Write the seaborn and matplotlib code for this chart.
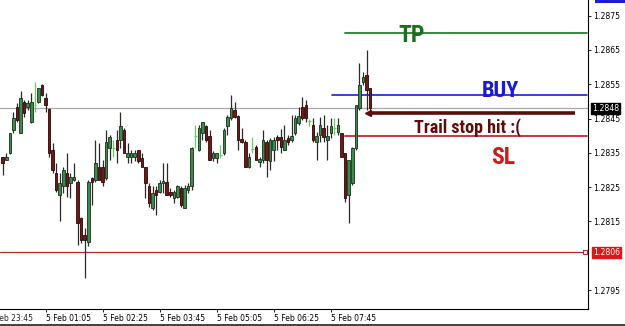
import numpy as np
import pandas as pd
import matplotlib
matplotlib.use("Agg")
import matplotlib.pyplot as plt
import seaborn as sns
from matplotlib.lines import Line2D
from matplotlib.patches import Rectangle
from matplotlib import font_manager

# ---------------- data (5-minute candles) ----------------
opens = [1.28339, 1.28329, 1.28349, 1.28417, 1.28485, 1.28407, 1.28499, 1.28485, 1.28439, 1.28490,
         1.28499, 1.28548, 1.28509, 1.28477, 1.28359, 1.28291, 1.28227, 1.28252, 1.28291, 1.28261,
         1.28271, 1.28266, 1.28159, 1.28111, 1.28091, 1.28276, 1.28271, 1.28310, 1.28310, 1.28276,
         1.28363, 1.28363, 1.28388, 1.28388, 1.28417, 1.28339, 1.28339, 1.28339, 1.28359, 1.28334,
         1.28310, 1.28252, 1.28188, 1.28242, 1.28237, 1.28261, 1.28266, 1.28237, 1.28217, 1.28222,
         1.28247, 1.28188, 1.28242, 1.28252, 1.28397, 1.28359, 1.28407, 1.28427, 1.28399, 1.28334,
         1.28334, 1.28344, 1.28349, 1.28427, 1.28451, 1.28475, 1.28458, 1.28391, 1.28383, 1.28310,
         1.28359, 1.28368, 1.28322, 1.28329, 1.28383, 1.28325, 1.28359, 1.28397, 1.28395, 1.28359,
         1.28393, 1.28388, 1.28407, 1.28436, 1.28485, 1.28490, 1.28441, 1.28431, 1.28383, 1.28402,
         1.28422, 1.28388, 1.28407, 1.28422, 1.28412, 1.28407, 1.28349, 1.28227, 1.28261, 1.28363,
         1.28481, 1.28557, 1.28577, 1.28539]
highs = [1.28339, 1.28349, 1.28409, 1.28470, 1.28495, 1.28529, 1.28504, 1.28504, 1.28524, 1.28558,
         1.28538, 1.28551, 1.28524, 1.28480, 1.28378, 1.28320, 1.28291, 1.28310, 1.28349, 1.28291,
         1.28320, 1.28271, 1.28164, 1.28130, 1.28271, 1.28281, 1.28388, 1.28378, 1.28329, 1.28417,
         1.28402, 1.28388, 1.28417, 1.28470, 1.28422, 1.28378, 1.28359, 1.28359, 1.28359, 1.28349,
         1.28310, 1.28261, 1.28252, 1.28252, 1.28271, 1.28320, 1.28320, 1.28247, 1.28242, 1.28256,
         1.28252, 1.28256, 1.28261, 1.28368, 1.28431, 1.28431, 1.28441, 1.28431, 1.28417, 1.28354,
         1.28349, 1.28373, 1.28422, 1.28461, 1.28519, 1.28499, 1.28461, 1.28422, 1.28388, 1.28349,
         1.28397, 1.28373, 1.28339, 1.28417, 1.28388, 1.28393, 1.28397, 1.28402, 1.28419, 1.28431,
         1.28402, 1.28461, 1.28461, 1.28485, 1.28514, 1.28504, 1.28448, 1.28451, 1.28412, 1.28456,
         1.28461, 1.28431, 1.28451, 1.28451, 1.28453, 1.28409, 1.28349, 1.28329, 1.28368, 1.28490,
         1.28612, 1.28586, 1.28650, 1.28539]
lows = [1.28286, 1.28329, 1.28347, 1.28407, 1.28441, 1.28407, 1.28456, 1.28475, 1.28436, 1.28470,
        1.28495, 1.28516, 1.28470, 1.28339, 1.28291, 1.28237, 1.28150, 1.28232, 1.28222, 1.28217,
        1.28268, 1.28082, 1.28086, 1.27984, 1.28077, 1.28198, 1.28266, 1.28271, 1.28252, 1.28271,
        1.28329, 1.28339, 1.28320, 1.28363, 1.28349, 1.28320, 1.28320, 1.28325, 1.28320, 1.28310,
        1.28217, 1.28193, 1.28184, 1.28169, 1.28232, 1.28232, 1.28227, 1.28222, 1.28203, 1.28217,
        1.28193, 1.28188, 1.28232, 1.28242, 1.28363, 1.28354, 1.28388, 1.28383, 1.28329, 1.28325,
        1.28320, 1.28334, 1.28344, 1.28402, 1.28446, 1.28451, 1.28359, 1.28378, 1.28310, 1.28305,
        1.28349, 1.28329, 1.28310, 1.28320, 1.28281, 1.28300, 1.28325, 1.28359, 1.28349, 1.28359,
        1.28373, 1.28383, 1.28402, 1.28431, 1.28446, 1.28441, 1.28427, 1.28383, 1.28329, 1.28383,
        1.28383, 1.28329, 1.28393, 1.28402, 1.28402, 1.28339, 1.28208, 1.28145, 1.28256, 1.28359,
        1.28475, 1.28548, 1.28475, 1.28460]
closes = [1.28320, 1.28339, 1.28409, 1.28451, 1.28446, 1.28509, 1.28467, 1.28495, 1.28499, 1.28491,
          1.28538, 1.28519, 1.28490, 1.28349, 1.28300, 1.28242, 1.28261, 1.28300, 1.28252, 1.28281,
          1.28279, 1.28145, 1.28096, 1.28096, 1.28266, 1.28266, 1.28320, 1.28271, 1.28266, 1.28383,
          1.28395, 1.28364, 1.28359, 1.28427, 1.28349, 1.28349, 1.28349, 1.28349, 1.28325, 1.28310,
          1.28261, 1.28203, 1.28232, 1.28227, 1.28261, 1.28268, 1.28227, 1.28227, 1.28237, 1.28252,
          1.28198, 1.28247, 1.28252, 1.28363, 1.28398, 1.28422, 1.28441, 1.28388, 1.28329, 1.28349,
          1.28349, 1.28345, 1.28417, 1.28456, 1.28480, 1.28456, 1.28388, 1.28383, 1.28310, 1.28339,
          1.28360, 1.28329, 1.28331, 1.28388, 1.28329, 1.28388, 1.28388, 1.28388, 1.28368, 1.28388,
          1.28383, 1.28399, 1.28451, 1.28458, 1.28451, 1.28451, 1.28442, 1.28388, 1.28399, 1.28431,
          1.28397, 1.28399, 1.28428, 1.28423, 1.28431, 1.28339, 1.28217, 1.28329, 1.28363, 1.28490,
          1.28548, 1.28571, 1.28533, 1.28481]

time_tick_bars = [12, 28, 44, 60, 76, 92]
time_tick_labels = ["5 Feb 01:05", "5 Feb 02:25", "5 Feb 03:45", "5 Feb 05:05", "5 Feb 06:25", "5 Feb 07:45"]
first_time_bar = -4
first_time_label = "4 Feb 23:45"

price_ticks = [1.2795, 1.2815, 1.2825, 1.2835, 1.2845, 1.2855, 1.2865, 1.2875]

bid_price = 1.2848
support_price = 1.2806
tp_price = 1.2870
buy_price = 1.2852
sl_price = 1.2840
trail_price = 1.28466

# ---------------- style ----------------
sns.set_theme(style="white")
plt.rcParams["font.family"] = ["DejaVu Sans"]

# pick the narrowest bold face available for the hand-written labels
names = {f.name for f in font_manager.fontManager.ttflist}
narrow = [n for n in ["Roboto Condensed", "Open Sans Condensed", "Liberation Sans Narrow",
                      "DejaVu Sans"] if n in names]
if not narrow:
    narrow = ["DejaVu Sans"]
narrow_family = narrow[:1] + (["DejaVu Sans"] if narrow[0] != "DejaVu Sans" else [])

W, H = 625, 326
fig = plt.figure(figsize=(W / 100, H / 100), dpi=100)
fig.patch.set_facecolor("white")
ax = fig.add_axes([0, 1 - 309 / H, 588 / W, 309 / H])
ax.set_facecolor("white")

df = pd.DataFrame({"open": opens, "high": highs, "low": lows, "close": closes})
df["bar"] = np.arange(len(df))
diff = df["close"] - df["open"]
doji = diff.abs() < 0.000015
bull = (diff > 0) & ~doji
bear = (diff < 0) & ~doji

# reference lines
ax.axhline(bid_price, color="#a8a8a8", lw=0.9, zorder=1)
ax.axhline(support_price, color="#b22a2a", lw=0.9, zorder=1)
ax.plot([163.3], [support_price], marker="s", ms=3, mfc="white", mec="#b22a2a", mew=0.8,
        clip_on=False, zorder=2)

# wicks
wick_col = np.where(doji, "#66cc66", "#2a2a2a")
ax.vlines(df["bar"], df["low"], df["high"], colors=wick_col, lw=0.9, zorder=3)
# bodies
bw = 0.72
for mask, face, edge in [(bull, "#3d8a4a", "#1a2f1a"), (bear, "#701818", "#2a0808")]:
    sub = df[mask]
    bottom = np.minimum(sub["open"], sub["close"])
    height = np.maximum((sub["close"] - sub["open"]).abs(), 0.00001)
    ax.bar(sub["bar"], height, bottom=bottom, width=bw, color=face, edgecolor=edge,
           linewidth=0.6, zorder=4)
dj = df[doji]
ax.hlines(dj["close"], dj["bar"] - 0.35, dj["bar"] + 0.35, colors="#66cc66", lw=0.9, zorder=4)

# trade levels
ax.plot([96.0, 163.8], [tp_price, tp_price], color="#2e7d32", lw=1.3, zorder=2)
ax.plot([92.3, 163.8], [buy_price, buy_price], color="#1f1fd0", lw=1.2, zorder=2)
ax.plot([96.0, 163.8], [sl_price, sl_price], color="#c62828", lw=1.3, zorder=2)
ax.plot([102.6, 160.5], [trail_price, trail_price], color="#5a0d0d", lw=2.6,
        solid_capstyle="butt", zorder=5)
ax.plot([102.4], [trail_price], marker="<", ms=4, color="#5a0d0d", zorder=5)

tkw = dict(fontweight="bold", family=narrow_family, fontstretch="condensed",
           ha="center", va="center", zorder=6)
ax.text(114.5, 1.28693, "TP", color="#1b6e1b", fontsize=17, **tkw)
ax.text(139.5, 1.28530, "BUY", color="#1a1ad0", fontsize=16, **tkw)
ax.text(130.2, 1.28423, "Trail stop hit :(", color="#5a0d0d", fontsize=13, **tkw)
ax.text(140.3, 1.28336, "SL", color="#cc1a1a", fontsize=17, **tkw)

# axes
ax.set_xlim(-0.757, 164.1)
ax.set_ylim(1.278947, 1.287958)
for s in ["top", "left"]:
    ax.spines[s].set_visible(False)
for s in ["right", "bottom"]:
    ax.spines[s].set_color("black")
    ax.spines[s].set_linewidth(0.8)

ax.yaxis.tick_right()
ax.set_yticks(price_ticks)
ax.set_yticklabels([f"{p:.4f}" for p in price_ticks])
ax.tick_params(axis="y", which="both", right=True, left=False, length=2, width=0.6,
               pad=1.5, labelsize=5.6, colors="black", direction="out")
ax.set_xticks(time_tick_bars)
ax.set_xticklabels(time_tick_labels)
ax.tick_params(axis="x", bottom=True, length=2, width=0.6, pad=1.5, labelsize=5.5,
               colors="black", direction="out")
plt.setp(ax.get_xticklabels(), ha="left")
ax.annotate(first_time_label, xy=(first_time_bar, 0), xycoords=ax.get_xaxis_transform(),
            xytext=(0, -3.5), textcoords="offset points", ha="left", va="top",
            fontsize=5.5, annotation_clip=False)
ax.grid(False)

# price boxes on the right scale
ax.text(1.007, bid_price, f"{bid_price:.4f}", transform=ax.get_yaxis_transform(),
        ha="left", va="center", fontsize=5.6, color="white", clip_on=False,
        bbox=dict(boxstyle="square,pad=0.15", fc="black", ec="black"), zorder=7)
ax.text(1.009, support_price, f"{support_price:.4f}", transform=ax.get_yaxis_transform(),
        ha="left", va="center", fontsize=5.6, color="white", clip_on=False,
        bbox=dict(boxstyle="square,pad=0.15", fc="#e01515", ec="#e01515"), zorder=7)

# small blue box at very top of scale and bottom frame line
fig.add_artist(Rectangle((595 / W, 1 - 3 / H), 30 / W, 3 / H, transform=fig.transFigure,
                         fc="#1f1fd0", ec="none"))
fig.add_artist(Line2D([0, 1], [1.5 / H, 1.5 / H], transform=fig.transFigure,
                      color="#202020", lw=1.2))

fig.savefig("out.png", dpi=100, facecolor="white")
